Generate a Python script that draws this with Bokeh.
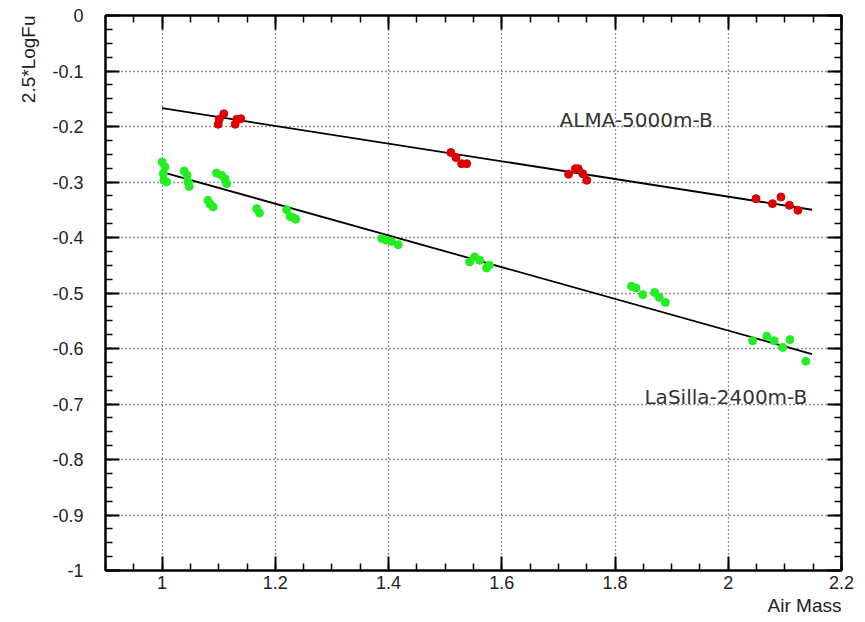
import numpy as np
from bokeh.plotting import figure
from bokeh.models import (Range1d, LinearAxis, FixedTicker, Label, Grid, Title,
                          CustomJSTickFormatter)
from bokeh.embed import file_html
from bokeh.resources import INLINE

# ---------------- data ----------------
alma_x = [1.099, 1.101, 1.109, 1.129, 1.132, 1.139,
          1.510, 1.519, 1.529, 1.538,
          1.718, 1.730, 1.735, 1.743, 1.750,
          2.049, 2.078, 2.093, 2.108, 2.123]
alma_y = [-0.196, -0.187, -0.177, -0.196, -0.187, -0.186,
          -0.247, -0.256, -0.267, -0.267,
          -0.286, -0.276, -0.276, -0.285, -0.297,
          -0.330, -0.339, -0.327, -0.342, -0.351]

lasilla_x = [1.000, 1.005, 1.002, 1.003, 1.008,
             1.039, 1.044, 1.046, 1.048,
             1.081, 1.085, 1.090,
             1.096, 1.105, 1.111, 1.114,
             1.167, 1.172,
             1.220, 1.226, 1.231, 1.236,
             1.388, 1.396, 1.405, 1.417,
             1.543, 1.552, 1.561, 1.573, 1.578,
             1.829, 1.837, 1.849, 1.870, 1.878, 1.889,
             2.043, 2.068, 2.081, 2.096, 2.109, 2.137]
lasilla_y = [-0.264, -0.273, -0.285, -0.297, -0.300,
             -0.280, -0.288, -0.300, -0.308,
             -0.333, -0.340, -0.345,
             -0.284, -0.288, -0.294, -0.303,
             -0.348, -0.356,
             -0.350, -0.362, -0.364, -0.367,
             -0.402, -0.405, -0.407, -0.413,
             -0.444, -0.435, -0.441, -0.455, -0.450,
             -0.488, -0.491, -0.503, -0.499, -0.508, -0.517,
             -0.586, -0.578, -0.586, -0.598, -0.584, -0.623]

fit_x = [1.0, 2.148]
alma_fit_y = [-0.167, -0.350]
lasilla_fit_y = [-0.282, -0.610]

x_major = [1.0, 1.2, 1.4, 1.6, 1.8, 2.0, 2.2]
x_labels = ["1", "1.2", "1.4", "1.6", "1.8", "2", "2.2"]
y_major = [0.0, -0.1, -0.2, -0.3, -0.4, -0.5, -0.6, -0.7, -0.8, -0.9, -1.0]
y_labels = ["0", "-0.1", "-0.2", "-0.3", "-0.4", "-0.5", "-0.6",
            "-0.7", "-0.8", "-0.9", "-1"]
x_grid = [1.0, 1.2, 1.4, 1.6, 1.8, 2.0]
y_grid = [-0.1, -0.2, -0.3, -0.4, -0.5, -0.6, -0.7, -0.8, -0.9]

x_minor = [round(v, 3) for v in np.arange(0.9, 2.2001, 0.05)]
y_minor = [round(v, 4) for v in np.arange(-1.0, 0.0001, 0.025)]

# ---------------- figure ----------------
W, H = 860, 622
p = figure(width=W, height=H, output_backend="svg", toolbar_location=None,
           x_range=Range1d(0.9, 2.2), y_range=Range1d(-1.0, 0.0),
           x_axis_location=None, y_axis_location=None,
           min_border_left=105, min_border_right=19,
           min_border_top=15, min_border_bottom=52)
p.background_fill_color = "white"
p.border_fill_color = "white"
p.outline_line_color = "black"
p.outline_line_width = 2
p.xgrid.visible = False
p.ygrid.visible = False

TICK_FONT = "Liberation Sans"
empty = CustomJSTickFormatter(code="return ''")


def style_axis(ax, labels=True):
    ax.axis_line_width = 2
    ax.axis_line_color = "black"
    ax.major_tick_in = 14
    ax.major_tick_out = 0
    ax.minor_tick_in = 7
    ax.minor_tick_out = 0
    ax.major_tick_line_width = 2
    ax.minor_tick_line_width = 1.5
    ax.major_tick_line_color = "black"
    ax.minor_tick_line_color = "black"
    ax.major_label_text_font = TICK_FONT
    ax.major_label_text_font_size = "18px"
    ax.major_label_text_color = "#222222"
    if not labels:
        ax.formatter = empty
        ax.major_label_standoff = 0


xt = FixedTicker(ticks=x_major, minor_ticks=x_minor)
yt = FixedTicker(ticks=y_major, minor_ticks=y_minor)

below = LinearAxis(ticker=xt)
style_axis(below)
below.major_label_overrides = {t: l for t, l in zip(x_major, x_labels)}
below.major_label_standoff = 5
p.add_layout(below, "below")

above = LinearAxis(ticker=xt)
style_axis(above, labels=False)
p.add_layout(above, "above")

left = LinearAxis(ticker=yt)
style_axis(left)
left.major_label_overrides = {t: l for t, l in zip(y_major, y_labels)}
left.major_label_standoff = 22
p.add_layout(left, "left")

right = LinearAxis(ticker=yt)
style_axis(right, labels=False)
p.add_layout(right, "right")

# axis titles as side titles
p.add_layout(Title(text="Air Mass", align="right", text_font=TICK_FONT,
                   text_font_size="19px", text_font_style="normal",
                   text_color="#222222", standoff=2), "below")
p.add_layout(Title(text="2.5*LogFu", align="right", text_font=TICK_FONT,
                   text_font_size="19px", text_font_style="normal",
                   text_color="#222222", standoff=22), "left")

# grid
xg = Grid(dimension=0, ticker=FixedTicker(ticks=x_grid), grid_line_color="#222222",
          grid_line_dash="1 3", grid_line_width=1.3)
yg = Grid(dimension=1, ticker=FixedTicker(ticks=y_grid), grid_line_color="#222222",
          grid_line_dash="1 3", grid_line_width=1.3)
p.add_layout(xg, "center")
p.add_layout(yg, "center")

# fit lines
p.line(fit_x, alma_fit_y, line_color="black", line_width=1.8)
p.line(fit_x, lasilla_fit_y, line_color="black", line_width=1.8)

# points
p.scatter(alma_x, alma_y, size=8, fill_color="#dd0000", line_color="#dd0000")
p.scatter(lasilla_x, lasilla_y, size=8, fill_color="#22ee22", line_color="#22ee22")

# in-plot labels
p.add_layout(Label(x=1.702, y=-0.189, text="ALMA-5000m-B",
                   text_font="DejaVu Sans", text_font_size="20px",
                   text_color="#333333", text_baseline="middle", text_align="left"))
p.add_layout(Label(x=1.852, y=-0.688, text="LaSilla-2400m-B",
                   text_font="DejaVu Sans", text_font_size="20px",
                   text_color="#333333", text_baseline="middle", text_align="left"))

open("out.html", "w").write(file_html(p, INLINE))
